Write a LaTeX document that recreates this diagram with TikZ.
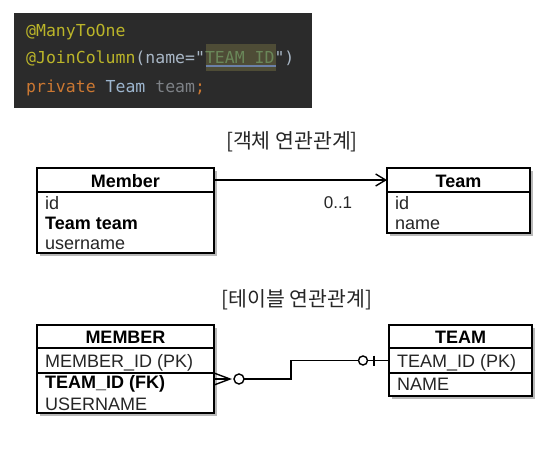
\documentclass[tikz,border=0pt]{standalone}
\usepackage{fontspec}
\setmainfont{Liberation Sans}
\newfontfamily\krfont{Noto Sans CJK KR}
\newfontfamily\codefont{DejaVu Sans Mono}
\usetikzlibrary{arrows.meta}
\definecolor{codebg}{HTML}{2B2B2B}
\definecolor{annot}{HTML}{BBB529}
\definecolor{plain}{HTML}{A9B7C6}
\definecolor{strg}{HTML}{6A8759}
\definecolor{kw}{HTML}{CC7832}
\definecolor{cls}{HTML}{9DB6CF}
\definecolor{fld}{HTML}{7E8287}
\definecolor{hilite}{HTML}{4E4C36}
\definecolor{uline}{HTML}{6B80A8}
\begin{document}
\begin{tikzpicture}[x=1pt,y=-1pt,
  box/.style={draw=black, line width=1.6pt, fill=white, inner sep=0pt, outer sep=0pt, anchor=north west},
  shadowbox/.style={fill=black!28, draw=none},
  row/.style={anchor=base west, inner sep=0pt, text=black!85, font=\fontsize{18}{20}\selectfont},
  boldrow/.style={anchor=base west, inner sep=0pt, text=black, font=\fontsize{18}{20}\selectfont\bfseries},
  head/.style={anchor=base, inner sep=0pt, text=black, font=\fontsize{18}{20}\selectfont\bfseries},
  title/.style={inner sep=0pt, text=black!85, font=\krfont\fontsize{20.5}{24}\selectfont},
  code/.style={anchor=base west, inner sep=0pt, font=\codefont\fontsize{16.5}{20}\selectfont},
  conn/.style={draw=black, line width=1.4pt},
  slot/.style={inner sep=0pt, outer sep=0pt, anchor=north west}]
\useasboundingbox (0,0) rectangle (558,451);
\fill[white] (0,0) rectangle (558,451);

% ---- code panel ----
\node[slot, fill=codebg, minimum width=298pt, minimum height=95pt] (codebox) at (14,13) {};
\node[slot, fill=hilite, minimum width=70pt, minimum height=27pt] (hl) at (205.5,44) {};
\node[code] (c1) at (26,36) {\color{annot}@ManyToOne};
\node[code] (c2) at (26,63) {\color{annot}@JoinColumn\color{plain}(name="\color{strg}TEAM\_ID\color{plain}")};
\node[code] (c3) at (26,92) {\color{kw}private \color{cls}Team \color{fld}team\color{kw};};
\draw[uline, line width=1.2pt] ([yshift=5pt]hl.south west) -- ([yshift=5pt]hl.south east);

% ---- object relation ----
\node[title] (t1) at (292,142) {[객체 연관관계]};

\fill[shadowbox] (39.5,170.5) rectangle (216.5,255.5);
\fill[shadowbox] (389.5,170.5) rectangle (532.5,235.5);

\node[box, minimum width=177pt, minimum height=24pt] (memberhead) at (37,168) {};
\node[box, minimum width=177pt, minimum height=61pt] (memberbody) at (37,192) {};
\node[head] (mname) at (125.5,187) {Member};
\node[row] (m1) at (45,209) {id};
\node[boldrow] (m2) at (45,229.5) {Team team};
\node[row] (m3) at (45,249.5) {username};

\node[box, minimum width=143pt, minimum height=24pt] (teamhead) at (387,168) {};
\node[box, minimum width=143pt, minimum height=41pt] (teambody) at (387,192) {};
\node[head] (tname) at (458.5,187) {Team};
\node[row] (t1r) at (395,209) {id};
\node[row] (t2r) at (395,229.5) {name};

\draw[conn, -{Straight Barb[length=10pt,width=12pt,line width=1.4pt]}] (memberhead.east) -- (teamhead.west);
\node[anchor=center, inner sep=0pt, text=black!85, font=\fontsize{17}{20}\selectfont] (mult) at (338,203) {0..1};

% ---- table relation ----
\node[title] (t2) at (297,300) {[테이블 연관관계]};

\fill[shadowbox] (39.5,327.5) rectangle (216.5,415.5);
\fill[shadowbox] (391.5,327.5) rectangle (534.5,398.5);

\node[box, minimum width=177pt, minimum height=23pt] (mhead) at (37,325) {};
\node[box, minimum width=177pt, minimum height=25pt] (mpk) at (37,348) {};
\node[box, minimum width=177pt, minimum height=40pt] (mrest) at (37,373) {};
\node[slot, minimum width=177pt, minimum height=12pt] (mfk) at (37,373) {};
\node[head] (mhn) at (125.5,343) {MEMBER};
\node[row] (r1) at (45,367) {MEMBER\_ID (PK)};
\node[boldrow] (r2) at (45,388) {TEAM\_ID (FK)};
\node[row] (r3) at (45,410) {USERNAME};

\node[box, minimum width=143pt, minimum height=23pt] (thead) at (389,325) {};
\node[box, minimum width=143pt, minimum height=25pt] (tpk) at (389,348) {};
\node[box, minimum width=143pt, minimum height=23pt] (trest) at (389,373) {};
\node[head] (thn) at (460.5,343) {TEAM};
\node[row] (s1) at (397,367) {TEAM\_ID (PK)};
\node[row] (s2) at (397,390) {NAME};

% crow's foot (many, optional) at MEMBER
\draw[conn] ([yshift=6pt]mfk.east) -- ([xshift=16pt]mfk.east) -- ([yshift=-6pt]mfk.east);
\draw[conn] (mfk.east) -- ([xshift=16pt]mfk.east);
\draw[conn] ([xshift=25pt]mfk.east) circle (5pt);
% connector
\draw[conn] ([xshift=30pt]mfk.east) -- ++(47,0) |- ([xshift=-30.5pt]tpk.west);
% zero-or-one at TEAM
\draw[conn] ([xshift=-26pt]tpk.west) circle (4.5pt);
\draw[conn] ([xshift=-21.5pt]tpk.west) -- (tpk.west);
\draw[conn] ([xshift=-15pt,yshift=5pt]tpk.west) -- ([xshift=-15pt,yshift=-5pt]tpk.west);
\end{tikzpicture}
\end{document}
